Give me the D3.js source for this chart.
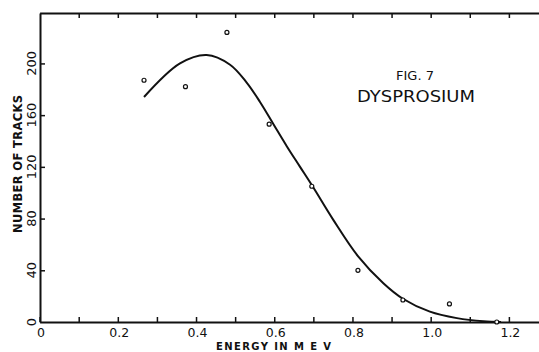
<!DOCTYPE html>
<html><head><meta charset="utf-8">
<script src="https://cdn.jsdelivr.net/npm/d3@7"></script>
<style>
body{margin:0;background:#fff;}
svg{display:block;}
text{font-family:"DejaVu Sans","Liberation Sans",sans-serif;fill:#111;}
</style></head>
<body>
<svg id="c" width="539" height="352"></svg>
<script>
// Data
const pointEnergy = [0.267, 0.373, 0.479, 0.587, 0.696, 0.814, 0.929, 1.048, 1.169];
const pointTracks = [187, 182, 224, 153, 105, 40, 17, 14, 0];
const curveEnergy = [0.267, 0.359, 0.427, 0.487, 0.530, 0.564, 0.598, 0.632, 0.666, 0.700, 0.751, 0.814, 0.879, 0.929, 0.998, 1.067, 1.135, 1.18];
const curveTracks = [174, 200, 206.5, 199, 185, 170, 153, 136, 120, 104, 79, 51, 30, 18, 8, 3, 0.5, 0];
const xTicks = [0,0.1,0.2,0.3,0.4,0.5,0.6,0.7,0.8,0.9,1.0,1.1,1.2];
const xLabels = ["0","0.2","0.4","0.6","0.8","1.0","1.2"];
const yTicks = [0,40,80,120,160,200];
const titleLines = ["FIG. 7","DYSPROSIUM"];
const xTitle = "ENERGY IN M E V";
const yTitle = "NUMBER OF TRACKS";

const svg = d3.select("#c");
const x = d3.scaleLinear().domain([0,1.277]).range([39.6,539]);
const y = d3.scaleLinear().domain([0,239]).range([322,13]);
const ink = "#111";

// bottom axis (ticks inward/up)
const gb = svg.append("g").attr("transform","translate(0,322)")
  .call(d3.axisBottom(x).tickValues(xTicks).tickSizeInner(-5).tickSizeOuter(0).tickFormat(""));
// top axis (ticks inward/down)
const gt = svg.append("g").attr("transform","translate(0,13)")
  .call(d3.axisTop(x).tickValues(xTicks.slice(1)).tickSizeInner(-5).tickSizeOuter(0).tickFormat(""));
// left axis (ticks inward/right)
const gl = svg.append("g").attr("transform","translate(40,0)")
  .call(d3.axisLeft(y).tickValues(yTicks.slice(1)).tickSizeInner(-5).tickSizeOuter(0).tickFormat(""));
[gb,gt,gl].forEach(g=>{
  g.select(".domain").attr("stroke",ink).attr("stroke-width",2);
  g.selectAll(".tick line").attr("stroke",ink).attr("stroke-width",1.5);
});

// x tick labels
svg.append("g").selectAll("text").data(xLabels).join("text")
  .attr("x",d=>x(+d)+1.5).attr("y",336.5).attr("text-anchor","middle")
  .attr("font-size",12.5).text(d=>d);

// y tick labels (rotated)
svg.append("g").selectAll("text").data(yTicks).join("text")
  .attr("transform",d=>`translate(36,${y(d)}) rotate(-90)`)
  .attr("text-anchor","middle").attr("font-size",13).text(d=>d);

// axis titles
svg.append("text").attr("transform","translate(21.5,164) rotate(-90)")
  .attr("text-anchor","middle").attr("font-size",11.5).attr("font-weight","bold")
  .attr("textLength",138).attr("lengthAdjust","spacing").text(yTitle);
svg.append("text").attr("x",216).attr("y",349.5)
  .attr("font-size",10).attr("font-weight","bold")
  .attr("textLength",115).attr("lengthAdjust","spacing").text(xTitle);

// figure titles
svg.append("text").attr("x",415).attr("y",80).attr("text-anchor","middle")
  .attr("font-size",13).text(titleLines[0]);
svg.append("text").attr("x",416).attr("y",102).attr("text-anchor","middle")
  .attr("font-size",16).attr("textLength",118).attr("lengthAdjust","spacingAndGlyphs").text(titleLines[1]);

// curve
const curveData = curveEnergy.map((e,i)=>[e,curveTracks[i]]);
svg.append("path").datum(curveData)
  .attr("fill","none").attr("stroke",ink).attr("stroke-width",2)
  .attr("d",d3.line().x(d=>x(d[0])).y(d=>y(d[1])).curve(d3.curveCatmullRom.alpha(0.5)));

// points
svg.append("g").selectAll("circle").data(pointEnergy.map((e,i)=>[e,pointTracks[i]])).join("circle")
  .attr("cx",d=>x(d[0])).attr("cy",d=>y(d[1])).attr("r",2)
  .attr("fill","#fff").attr("stroke",ink).attr("stroke-width",1.2);
</script>
</body></html>
